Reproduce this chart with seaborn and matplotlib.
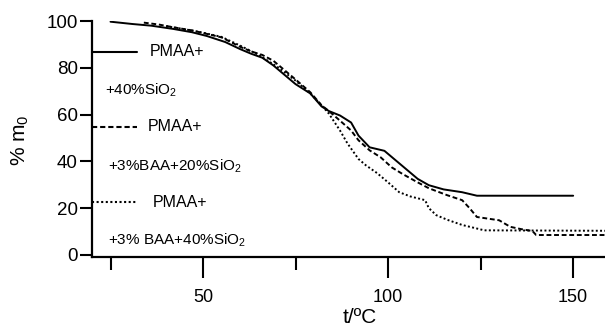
import matplotlib
matplotlib.use("Agg")
import matplotlib.pyplot as plt
import seaborn as sns
import pandas as pd
from matplotlib.ticker import FixedLocator

# ---- data ----
solid_t = [25, 31, 36, 42, 47, 51, 56, 60, 63, 66, 69, 72, 75, 79, 82, 84, 87, 90, 92, 95, 99, 102, 105, 108, 111, 115, 120, 124, 150]
solid_y = [99.7, 98.7, 98.0, 96.6, 95.2, 93.6, 91.0, 88.0, 86.0, 84.3, 81.0, 77.0, 73.0, 69.0, 63.5, 61.5, 59.6, 56.6, 51.0, 46.0, 44.5, 40.5, 36.5, 32.5, 29.8, 28.0, 26.8, 25.3, 25.3]

dashed_t = [34, 38, 42, 47, 51, 55, 60, 63, 66, 69, 72, 75, 79, 82, 84, 87, 90, 92, 95, 98, 101, 104, 108, 111, 116, 120, 122, 124, 127, 130, 133, 136, 139, 140, 160]
dashed_y = [99.3, 98.5, 97.3, 96.0, 94.5, 93.0, 89.0, 87.0, 85.5, 83.0, 79.0, 75.0, 69.5, 64.0, 61.5, 57.4, 53.2, 49.0, 44.7, 41.7, 37.4, 34.5, 31.0, 28.5, 25.5, 23.4, 20.0, 16.2, 15.5, 14.8, 12.0, 11.0, 10.2, 8.5, 8.5]

dotted_t = [40, 45, 50, 55, 60, 65, 70, 75, 79, 82, 84, 87, 89, 92, 94, 97, 100, 103, 106, 110, 111, 113, 116, 120, 126, 160]
dotted_y = [97.8, 96.5, 95.0, 93.2, 89.5, 85.5, 80.5, 74.5, 69.0, 64.0, 60.4, 53.2, 47.7, 41.0, 38.3, 35.0, 31.0, 26.8, 25.0, 23.4, 20.0, 17.0, 15.0, 12.8, 10.5, 10.3]

legend_head = ["PMAA+", "PMAA+", "PMAA+"]
legend_tail = ["+40%SiO$_2$", "+3%BAA+20%SiO$_2$", "+3% BAA+40%SiO$_2$"]

x_major = [50, 100, 150]
x_minor = [25, 75, 125]
y_ticks = [0, 20, 40, 60, 80, 100]

# ---- style ----
sns.set_theme(style="ticks")
plt.rcParams["font.family"] = ["Liberation Sans", "DejaVu Sans"]
plt.rcParams["mathtext.fontset"] = "custom"
plt.rcParams["mathtext.rm"] = "Liberation Sans"
plt.rcParams["mathtext.it"] = "Liberation Sans:italic"
plt.rcParams["mathtext.default"] = "rm"

DASH = (0, (2.5, 1.4))
DOT = (0, (1.0, 1.2))

fig = plt.figure(figsize=(6.05, 3.33), dpi=100)
ax = fig.add_axes([92/605, 1-257/333, 1-92/605, (257-21)/333])

df_s = pd.DataFrame({"t": solid_t, "m": solid_y})
df_d = pd.DataFrame({"t": dashed_t, "m": dashed_y})
df_o = pd.DataFrame({"t": dotted_t, "m": dotted_y})

sns.lineplot(data=df_s, x="t", y="m", ax=ax, color="black", lw=1.4, sort=False)
sns.lineplot(data=df_d, x="t", y="m", ax=ax, color="black", lw=1.4, sort=False,
             linestyle=DASH)
sns.lineplot(data=df_o, x="t", y="m", ax=ax, color="black", lw=1.4, sort=False,
             linestyle=DOT)

ax.set_xlim(20, 158.6)
ax.set_ylim(-0.9, 100)

for s in ["top", "right"]:
    ax.spines[s].set_visible(False)
for s in ["left", "bottom"]:
    ax.spines[s].set_linewidth(1.6)
    ax.spines[s].set_color("black")
ax.spines["left"].set_bounds(-0.9, 100)

ax.xaxis.set_major_locator(FixedLocator(x_major))
ax.xaxis.set_minor_locator(FixedLocator(x_minor))
ax.yaxis.set_major_locator(FixedLocator(y_ticks))
ax.tick_params(axis="x", which="major", length=15, width=1.5, pad=8,
               labelsize=13, color="black", labelcolor="black", direction="out")
ax.tick_params(axis="x", which="minor", length=9.5, width=1.5, color="black",
               direction="out")
ax.tick_params(axis="y", which="major", length=8.6, width=1.5, pad=1.5,
               labelsize=13.5, color="black", labelcolor="black", direction="out")

ax.set_xlabel("t/ºC", fontsize=15, color="black")
ax.xaxis.set_label_coords(0.522, -0.255)
ax.xaxis.label.set_va("center")
ax.set_ylabel("% m$_0$", fontsize=15, color="black")
ax.yaxis.set_label_coords(-0.14, 0.496)
ax.yaxis.label.set_va("center")

# ---- legend (drawn as in the reference) ----
styles = ["-", DASH, DOT]
sample_y = [0.869, 0.551, 0.233]
head_x = [0.113, 0.109, 0.119]
tail_y = [0.708, 0.386, 0.072]
tail_x = [0.025, 0.031, 0.031]
for i in range(3):
    ax.plot([0.0, 0.088], [sample_y[i], sample_y[i]], transform=ax.transAxes,
            color="black", lw=1.5, linestyle=styles[i], clip_on=False)
    ax.text(head_x[i], sample_y[i], legend_head[i], transform=ax.transAxes,
            fontsize=11.5, va="center", ha="left", color="black")
    ax.text(tail_x[i], tail_y[i], legend_tail[i], transform=ax.transAxes,
            fontsize=11, va="center", ha="left", color="black")

fig.savefig("out.png", dpi=100)
